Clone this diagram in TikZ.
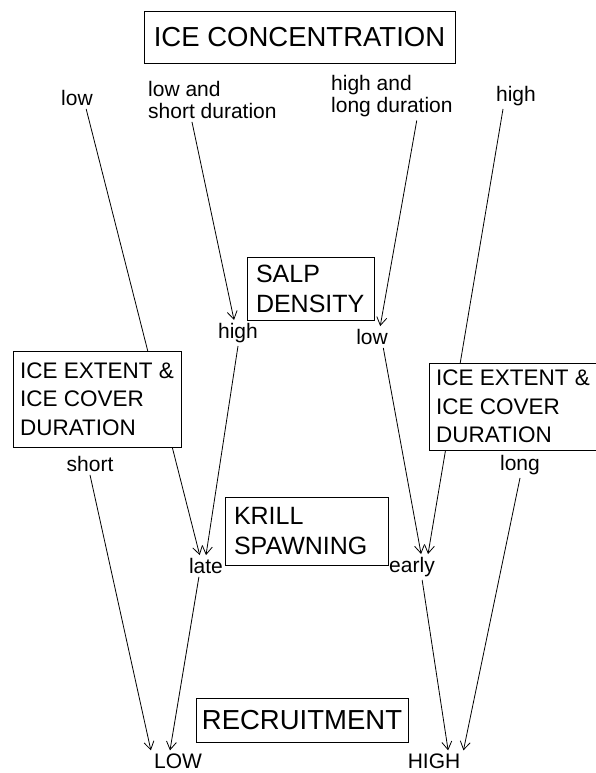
\documentclass[tikz,border=0pt]{standalone}
\usepackage{fontspec}
\setmainfont{Liberation Sans}
\usetikzlibrary{arrows.meta}
\newcommand{\lblfont}{\fontsize{21}{22}\selectfont}
\newcommand{\boxfont}{\fontsize{22.5}{28.5}\selectfont}
\newcommand{\midfont}{\fontsize{25}{30}\selectfont}
\newcommand{\bigfont}{\fontsize{27.5}{30}\selectfont}

\begin{document}
\begin{tikzpicture}[
    x=1pt, y=-1pt,
    lbl/.style={inner sep=3pt, font=\lblfont},
    box/.style={rectangle, draw, fill=white, line width=0.8pt, inner xsep=9pt, align=left},
    tbox/.style={rectangle, draw, fill=white, line width=0.8pt, align=center},
    arrow/.style={-{Straight Barb[length=8pt,width=10pt]}, line width=0.8pt},
]
    \useasboundingbox (0,0) rectangle (595,773);

    % labels
    \node[lbl] (conclow) at (77,98) {low};
    \node[lbl, anchor=west, align=left] (conclowshort) at (145,100) {low and\\short duration};
    \node[lbl, anchor=west, align=left] (conchighlong) at (328,96.5) {high and\\long duration};
    \node[lbl] (conchigh) at (516,96) {high};
    \node[lbl] (salphigh) at (238,333) {high};
    \node[lbl] (salplow) at (372,337) {low};
    \node[lbl] (iceshort) at (90,464) {short};
    \node[lbl] (icelong) at (520,465) {long};
    \node[lbl] (spawnlate) at (206,566) {late};
    \node[lbl] (spawnearly) at (412,567) {early};
    \node[lbl] (reclow) at (178,761) {LOW};
    \node[lbl] (rechigh) at (434,761) {HIGH};

    \draw[arrow] (conclow.-50) -- (spawnlate.120);
    \draw[arrow] (conclowshort.-133) -- (salphigh.107);
    \draw[arrow] (conchighlong.-44) -- (salplow.53);
    \draw[arrow] (conchigh.-135) -- (spawnearly.39);
    \draw[arrow] (salphigh.south) -- (spawnlate.north);
    \draw[arrow] (salplow.-44) -- (spawnearly.55);
    \draw[arrow] (iceshort.south) -- (reclow.north west);
    \draw[arrow] (spawnlate.-123) -- (reclow.127);
    \draw[arrow] (spawnearly.-52) -- (rechigh.37);
    \draw[arrow] (icelong.south) -- (rechigh.north east);

    % boxes
    \node[tbox, font=\bigfont, minimum width=311pt, minimum height=52pt] (iceconc) at (299.5,37) {ICE CONCENTRATION};
    \node[box, font=\midfont, text width=109pt, minimum height=63pt] (salp) at (310.5,288.5) {SALP\\DENSITY};
    \node[box, font=\boxfont, inner xsep=6.5pt, minimum width=168pt, minimum height=96pt] (iceleft) at (97,399) {ICE EXTENT \&\\ICE COVER\\DURATION};
    \node[box, font=\boxfont, inner xsep=6.5pt, minimum width=168pt, minimum height=87pt] (iceright) at (513,406.5) {ICE EXTENT \&\\ICE COVER\\DURATION};
    \node[box, font=\midfont, text width=145pt, minimum height=68pt] (krill) at (306.5,531) {KRILL\\SPAWNING};
    \node[tbox, font=\bigfont, minimum width=212pt, minimum height=44pt] (recruit) at (302,720) {RECRUITMENT};
\end{tikzpicture}
\end{document}
